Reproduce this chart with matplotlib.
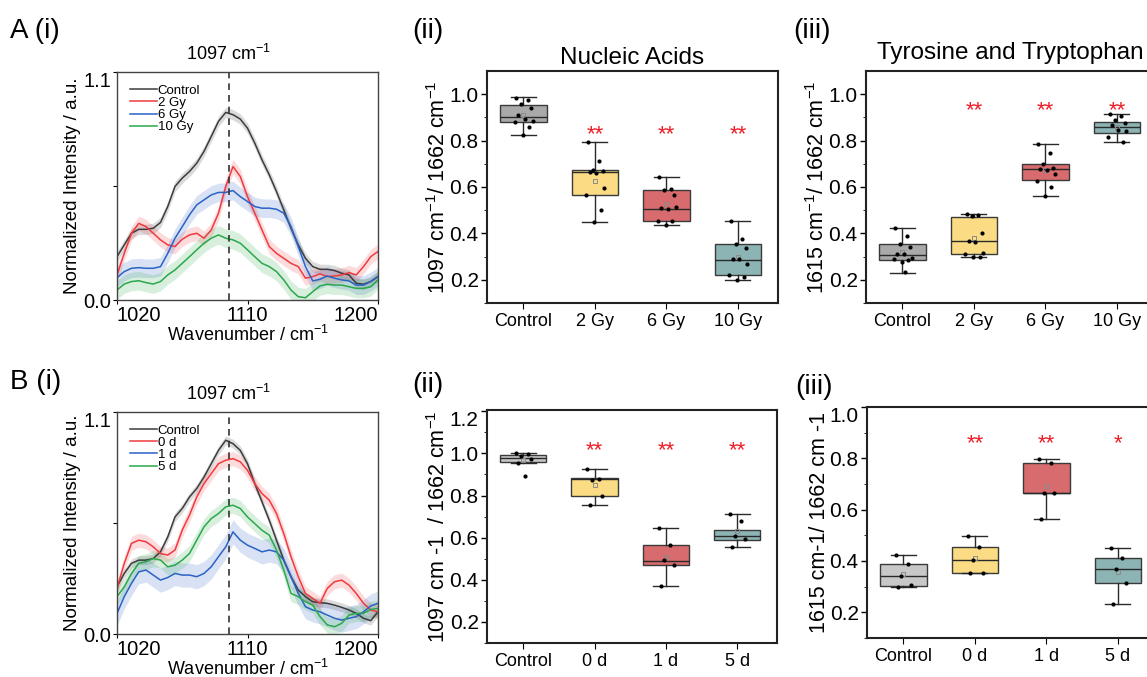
import matplotlib
matplotlib.use('Agg')
import matplotlib.pyplot as plt
import numpy as np
from matplotlib import rcParams

rcParams['font.family'] = ['Liberation Sans', 'DejaVu Sans']
rcParams['mathtext.fontset'] = 'custom'
rcParams['mathtext.rm'] = 'Liberation Sans'
rcParams['mathtext.default'] = 'regular'

# ---------------- spectra data ----------------
wn = np.arange(1020, 1201, 5)

a_labels = ['Control', '2 Gy', '6 Gy', '10 Gy']
a_control = [0.209, 0.266, 0.322, 0.341, 0.341, 0.346, 0.374, 0.451, 0.548, 0.588, 0.620, 0.660, 0.717,
             0.789, 0.862, 0.905, 0.894, 0.873, 0.829, 0.757, 0.676, 0.604, 0.523, 0.435, 0.346, 0.266,
             0.201, 0.161, 0.148, 0.148, 0.142, 0.129, 0.121, 0.081, 0.076, 0.089, 0.113]
a_2gy = [0.121, 0.225, 0.322, 0.370, 0.354, 0.322, 0.290, 0.266, 0.258, 0.293, 0.314, 0.322, 0.298,
         0.338, 0.419, 0.548, 0.644, 0.596, 0.499, 0.419, 0.338, 0.258, 0.225, 0.201, 0.177, 0.161,
         0.105, 0.113, 0.126, 0.113, 0.116, 0.121, 0.132, 0.121, 0.161, 0.209, 0.234]
a_6gy = [0.108, 0.137, 0.153, 0.156, 0.153, 0.153, 0.161, 0.225, 0.298, 0.354, 0.411, 0.459, 0.483,
         0.507, 0.519, 0.519, 0.528, 0.499, 0.475, 0.451, 0.443, 0.443, 0.438, 0.419, 0.354, 0.258,
         0.161, 0.092, 0.100, 0.116, 0.105, 0.097, 0.092, 0.072, 0.072, 0.089, 0.113]
a_10gy = [0.048, 0.077, 0.089, 0.093, 0.084, 0.077, 0.089, 0.121, 0.145, 0.177, 0.209, 0.242, 0.274,
          0.298, 0.314, 0.298, 0.290, 0.274, 0.242, 0.209, 0.177, 0.161, 0.137, 0.097, 0.048, 0.016,
          0.011, 0.040, 0.068, 0.076, 0.072, 0.072, 0.064, 0.056, 0.056, 0.064, 0.097]
a_band = [0.025, 0.035, 0.045, 0.045]

b_labels = ['Control', '0 d', '1 d', '5 d']
b_control = [0.234, 0.300, 0.350, 0.366, 0.366, 0.374, 0.407, 0.481, 0.580, 0.622, 0.679, 0.721, 0.778,
             0.844, 0.910, 0.960, 0.943, 0.910, 0.844, 0.745, 0.655, 0.564, 0.465, 0.366, 0.284, 0.218,
             0.185, 0.160, 0.155, 0.152, 0.143, 0.132, 0.119, 0.102, 0.078, 0.066, 0.110]
b_0d = [0.226, 0.350, 0.449, 0.465, 0.457, 0.432, 0.399, 0.391, 0.416, 0.515, 0.589, 0.679, 0.745,
        0.795, 0.844, 0.861, 0.869, 0.853, 0.811, 0.745, 0.696, 0.663, 0.597, 0.498, 0.383, 0.284,
        0.201, 0.176, 0.152, 0.226, 0.259, 0.267, 0.242, 0.201, 0.152, 0.119, 0.110]
b_1d = [0.102, 0.185, 0.251, 0.308, 0.317, 0.292, 0.267, 0.280, 0.300, 0.292, 0.292, 0.284, 0.300,
        0.333, 0.383, 0.432, 0.506, 0.465, 0.440, 0.424, 0.407, 0.416, 0.407, 0.366, 0.284, 0.201,
        0.135, 0.119, 0.110, 0.094, 0.078, 0.069, 0.078, 0.086, 0.110, 0.139, 0.152]
b_5d = [0.185, 0.234, 0.300, 0.350, 0.358, 0.374, 0.366, 0.333, 0.341, 0.366, 0.399, 0.465, 0.531,
        0.572, 0.597, 0.630, 0.638, 0.622, 0.580, 0.547, 0.514, 0.490, 0.416, 0.317, 0.201, 0.185,
        0.160, 0.143, 0.086, 0.045, 0.036, 0.053, 0.094, 0.102, 0.102, 0.122, 0.127]
b_band = [0.022, 0.035, 0.06, 0.04]

# ---------------- box plot data ----------------
# (ii) nucleic acids ratio, irradiation dose
nuc_a_pts = [[0.985, 0.975, 0.958, 0.940, 0.910, 0.895, 0.885, 0.880, 0.857, 0.823],
             [0.794, 0.713, 0.673, 0.670, 0.665, 0.660, 0.594, 0.566, 0.500, 0.448],
             [0.644, 0.590, 0.585, 0.566, 0.508, 0.507, 0.512, 0.455, 0.455, 0.438],
             [0.455, 0.377, 0.356, 0.335, 0.290, 0.288, 0.266, 0.222, 0.210, 0.197]]
nuc_a_q1 = [0.879, 0.566, 0.454, 0.222]
nuc_a_med = [0.900, 0.666, 0.507, 0.287]
nuc_a_q3 = [0.954, 0.673, 0.586, 0.356]
nuc_a_lo = [0.823, 0.448, 0.435, 0.197]
nuc_a_hi = [0.988, 0.794, 0.644, 0.454]
nuc_a_mean = [0.911, 0.628, 0.526, 0.298]
nuc_a_sig = ['', '**', '**', '**']

# (iii) tyrosine/tryptophan ratio, irradiation dose
tyr_a_pts = [[0.422, 0.387, 0.355, 0.340, 0.313, 0.310, 0.296, 0.290, 0.287, 0.278, 0.232],
             [0.485, 0.480, 0.473, 0.400, 0.368, 0.364, 0.314, 0.310, 0.300, 0.298],
             [0.785, 0.745, 0.700, 0.680, 0.676, 0.672, 0.655, 0.627, 0.600, 0.560],
             [0.914, 0.905, 0.890, 0.875, 0.868, 0.845, 0.840, 0.814, 0.795]]
tyr_a_q1 = [0.287, 0.312, 0.630, 0.834]
tyr_a_med = [0.307, 0.366, 0.676, 0.860]
tyr_a_q3 = [0.356, 0.471, 0.697, 0.882]
tyr_a_lo = [0.230, 0.298, 0.560, 0.795]
tyr_a_hi = [0.422, 0.485, 0.785, 0.914]
tyr_a_mean = [0.321, 0.380, 0.675, 0.860]
tyr_a_sig = ['', '**', '**', '**']

# (ii) nucleic acids ratio, time after irradiation
nuc_b_pts = [[1.000, 0.995, 0.990, 0.975, 0.955, 0.893],
             [0.925, 0.880, 0.875, 0.800, 0.754],
             [0.648, 0.564, 0.493, 0.472, 0.370],
             [0.713, 0.678, 0.609, 0.593, 0.556]]
nuc_b_q1 = [0.957, 0.799, 0.470, 0.591]
nuc_b_med = [0.977, 0.878, 0.491, 0.609]
nuc_b_q3 = [0.991, 0.884, 0.564, 0.636]
nuc_b_lo = [0.955, 0.754, 0.370, 0.554]
nuc_b_hi = [1.000, 0.925, 0.648, 0.713]
nuc_b_mean = [0.967, 0.848, 0.509, 0.630]
nuc_b_sig = ['', '**', '**', '**']

# (iii) tyrosine/tryptophan ratio, time after irradiation
tyr_b_pts = [[0.423, 0.388, 0.342, 0.305, 0.298],
             [0.498, 0.453, 0.403, 0.353, 0.353],
             [0.799, 0.781, 0.666, 0.666, 0.563],
             [0.452, 0.413, 0.370, 0.315, 0.232]]
tyr_b_q1 = [0.303, 0.353, 0.665, 0.315]
tyr_b_med = [0.342, 0.403, 0.665, 0.370]
tyr_b_q3 = [0.387, 0.453, 0.781, 0.413]
tyr_b_lo = [0.297, 0.353, 0.563, 0.232]
tyr_b_hi = [0.425, 0.498, 0.799, 0.452]
tyr_b_mean = [0.351, 0.413, 0.693, 0.357]
tyr_b_sig = ['', '**', '**', '*']

line_colors = ['#3c3c3c', '#f03a3e', '#2a62c6', '#2aa84a']
box_colors_a = ['#a9a9a9', '#fbdc84', '#d86b6e', '#8db4b4']
box_colors_b = ['#c8c8c8', '#fbdc84', '#d86b6e', '#8db4b4']
jitter = [-0.10, 0.06, -0.03, 0.11, -0.07, 0.02, 0.13, -0.12, 0.08, -0.01, 0.04]

fig = plt.figure(figsize=(11.47, 6.77), dpi=100)


def spectrum_panel(rect, series, bands, labels):
    ax = fig.add_axes(rect)
    for y, b, lab, c in zip(series, bands, labels, line_colors):
        y = np.array(y)
        ax.fill_between(wn, y - b, y + b, color=c, alpha=0.18, lw=0)
        ax.plot(wn, y, color=c, lw=1.1, label=lab)
    ax.axvline(1097, color='#333333', ls=(0, (4, 3)), lw=1.2)
    ax.set_xlim(1020, 1200)
    ax.set_ylim(0, 1.1)
    ax.set_xticks([1020, 1110, 1200])
    ax.set_yticks([0, 0.55, 1.1])
    ax.set_yticklabels(['0.0', '', '1.1'])
    ax.tick_params(labelsize=14.5, direction='out', length=3, pad=1)
    xl = ax.get_xticklabels()
    xl[0].set_ha('left')
    xl[-1].set_ha('right')
    ax.get_yticklabels()[-1].set_va('top')
    for s in ax.spines.values():
        s.set_color('#444444')
        s.set_linewidth(1.0)
    ax.set_ylabel('Normalized Intensity / a.u.', fontsize=13.5, labelpad=2)
    ax.set_xlabel('Wavenumber / cm$^{-1}$', fontsize=13, labelpad=0)
    ax.text(1097, 1.14, '1097 cm$^{-1}$', ha='center', va='bottom', fontsize=13)
    ax.legend(loc='upper left', fontsize=9.5, frameon=False, handlelength=2.0,
              handletextpad=0.1, labelspacing=0.0, borderaxespad=0.2,
              bbox_to_anchor=(0.02, 0.98))
    return ax


def box_panel(rect, pts, q1, med, q3, lo, hi, mean, sig, colors, cats, ylim, yticks,
              ylabel, star_y):
    ax = fig.add_axes(rect)
    stats = []
    for i in range(len(cats)):
        stats.append(dict(med=med[i], q1=q1[i], q3=q3[i], whislo=lo[i], whishi=hi[i],
                          mean=mean[i], fliers=[]))
    pos = np.arange(len(cats))
    bp = ax.bxp(stats, positions=pos, widths=0.65, patch_artist=True, showmeans=True,
                capwidths=0.35,
                boxprops=dict(edgecolor='#3a3a3a', linewidth=1.0),
                medianprops=dict(color='#2a2a2a', linewidth=1.0),
                whiskerprops=dict(color='#2a2a2a', linewidth=1.0),
                capprops=dict(color='#2a2a2a', linewidth=1.0),
                meanprops=dict(marker='s', markersize=3.5, markerfacecolor='none',
                               markeredgecolor='#8a8a8a', markeredgewidth=0.7))
    for patch, c in zip(bp['boxes'], colors):
        patch.set_facecolor(c)
    for i, p in enumerate(pts):
        xs = pos[i] + np.array(jitter[:len(p)])
        ax.scatter(xs, p, s=9, color='black', zorder=5, lw=0)
    for i, s in enumerate(sig):
        if s:
            ax.text(pos[i], star_y, s, color='#ee1c25', ha='center', va='center',
                    fontsize=16)
    ax.set_xlim(-0.51, 3.56)
    ax.set_ylim(*ylim)
    ax.set_yticks(yticks)
    ax.set_yticklabels(['%.1f' % t for t in yticks])
    ax.set_yticks(np.arange(round(yticks[0] - 0.1, 1), ylim[1], 0.1), minor=True)
    ax.set_xticks(pos)
    ax.set_xticklabels(cats)
    ax.tick_params(axis='y', labelsize=15, direction='out', length=4, width=1.0, pad=2)
    ax.tick_params(axis='y', which='minor', direction='out', length=2.5)
    ax.tick_params(axis='x', labelsize=13, direction='out', length=4, pad=3)
    # Origin-like: top label kept inside the frame
    yl = ax.get_yticklabels()
    if abs(yticks[-1] - ylim[1]) < 0.02:
        yl[-1].set_va('top')
    for s in ax.spines.values():
        s.set_color('#222222')
        s.set_linewidth(1.5)
    ax.set_ylabel(ylabel, fontsize=15.5, labelpad=0)
    return ax


W, H = 1147.0, 677.0


def rect(l, t, r, b):
    return [l / W, 1 - b / H, (r - l) / W, (b - t) / H]


spectrum_panel(rect(117, 72, 378, 300), [a_control, a_2gy, a_6gy, a_10gy], a_band, a_labels)
spectrum_panel(rect(117, 412, 378, 634), [b_control, b_0d, b_1d, b_5d], b_band, b_labels)

yt = [0.2, 0.4, 0.6, 0.8, 1.0]
ax_a2 = box_panel(rect(487, 71, 778, 303), nuc_a_pts, nuc_a_q1, nuc_a_med, nuc_a_q3, nuc_a_lo,
                  nuc_a_hi, nuc_a_mean, nuc_a_sig, box_colors_a, a_labels, (0.1, 1.1), yt,
                  '1097 cm$^{-1}$/ 1662 cm$^{-1}$', 0.827)
ax_a2.set_title('Nucleic Acids', fontsize=17.5, pad=5)
ax_a3 = box_panel(rect(866, 71, 1157, 303), tyr_a_pts, tyr_a_q1, tyr_a_med, tyr_a_q3, tyr_a_lo,
                  tyr_a_hi, tyr_a_mean, tyr_a_sig, box_colors_a, a_labels, (0.1, 1.1), yt,
                  '1615 cm$^{-1}$/ 1662 cm$^{-1}$', 0.928)
fig.text(1010 / W, 1 - 53 / H, 'Tyrosine and Tryptophan', ha='center', va='center', fontsize=17.5)

box_panel(rect(487, 410, 777, 643), nuc_b_pts, nuc_b_q1, nuc_b_med, nuc_b_q3, nuc_b_lo,
          nuc_b_hi, nuc_b_mean, nuc_b_sig, box_colors_b, b_labels, (0.194, 1.206),
          [0.2, 0.4, 0.6, 0.8, 1.0, 1.2], '1097 cm -1  / 1662 cm$^{-1}$', 1.012)
box_panel(rect(867, 407, 1158, 638), tyr_b_pts, tyr_b_q1, tyr_b_med, tyr_b_q3, tyr_b_lo,
          tyr_b_hi, tyr_b_mean, tyr_b_sig, box_colors_b, b_labels, (0.1, 1.0), yt,
          '1615 cm-1/ 1662 cm -1', 0.857)

# panel letters
fig.text(10 / W, 1 - 31 / H, 'A (i)', fontsize=20, va='center')
fig.text(10 / W, 1 - 382 / H, 'B (i)', fontsize=20, va='center')
fig.text(412 / W, 1 - 31 / H, '(ii)', fontsize=20, va='center')
fig.text(412 / W, 1 - 385 / H, '(ii)', fontsize=20, va='center')
fig.text(793 / W, 1 - 31 / H, '(iii)', fontsize=20, va='center')
fig.text(795 / W, 1 - 387 / H, '(iii)', fontsize=20, va='center')

fig.savefig('out.png', dpi=100)
